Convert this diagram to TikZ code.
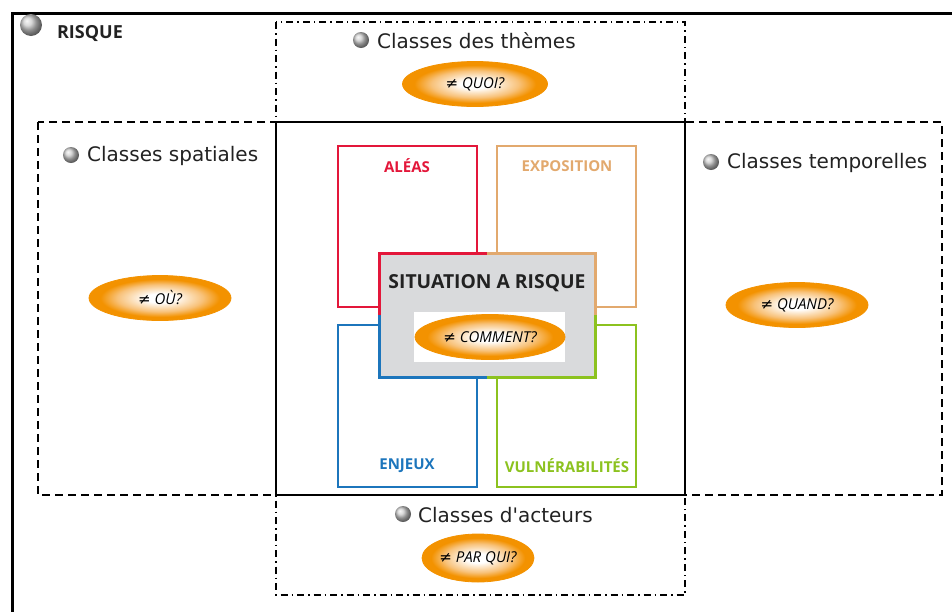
\documentclass[tikz,border=0pt]{standalone}
\usepackage{fontspec}
\setmainfont{Open Sans}
\newfontfamily\symf{DejaVu Sans}
\newfontfamily\classf{DejaVu Sans}
\usetikzlibrary{shapes.geometric}
\definecolor{cRed}{HTML}{E3173A}
\definecolor{cTan}{HTML}{E2A96E}
\definecolor{cBlue}{HTML}{1C75BC}
\definecolor{cGreen}{HTML}{8CC21F}
\definecolor{cGray}{HTML}{D9DADC}
\definecolor{cOrange}{HTML}{F39200}
\definecolor{cOrangeL}{HTML}{F8C27A}
\definecolor{cText}{HTML}{222222}
\pgfdeclareradialshading{orbshade}{\pgfpoint{0bp}{0bp}}{color(0bp)=(white); color(5bp)=(white); color(15bp)=(cOrangeL); color(21bp)=(cOrange); color(25bp)=(cOrange); color(50bp)=(cOrange)}
\tikzset{
  bulletball/.style={circle, inner sep=0pt, minimum size=#1, shading=ball, ball color=gray!40},
  orb/.style={ellipse, inner sep=0pt, shading=orbshade, draw=cOrange, line width=0.8pt, font=\fontsize{15}{17}\selectfont\itshape, text=black},
  classlabel/.style={anchor=west, inner sep=0pt, font=\classf\fontsize{20}{23}\selectfont, text=cText},
  boxlabel/.style={inner sep=0pt, font=\fontsize{15}{17}\selectfont\bfseries},
  dashbox/.style={line width=1.4pt, dash pattern=on 8pt off 5pt},
  dotbox/.style={line width=1.4pt, dash pattern=on 7pt off 4pt on 1.5pt off 4pt},
  quadbox/.style={line width=2pt}
}
\begin{document}
\begin{tikzpicture}[x=1pt,y=-1pt]
\useasboundingbox (0,0) rectangle (952,611);
% outer frame
\draw[line width=3pt] (12,620) -- (12,13) -- (960,13);
% dashed and dash-dot boxes
\draw[dashbox] (38,122) rectangle (942,495);
\draw[dotbox] (276,22) rectangle (685,595);
\draw[line width=1.6pt] (276,122) rectangle (685,495);
% four quadrant boxes
\draw[quadbox, cRed] (338,146) rectangle (477,307);
\draw[quadbox, cTan] (497,146) rectangle (636,307);
\draw[quadbox, cBlue] (338,325) rectangle (477,487);
\draw[quadbox, cGreen] (497,325) rectangle (636,487);
\node[boxlabel, text=cRed] (aleas) at (407,166) {ALÉAS};
\node[boxlabel, text=cTan] (expo) at (567,166) {EXPOSITION};
\node[boxlabel, text=cBlue] (enjeux) at (407,466) {ENJEUX};
\node[boxlabel, text=cGreen] (vuln) at (567,466) {VULNÉRABILITÉS};
% central box
\fill[cGray] (379,253) rectangle (595,377);
\draw[line width=3pt, cRed] (379,315) -- (379,253) -- (487,253);
\draw[line width=3pt, cTan] (487,253) -- (595,253) -- (595,315);
\draw[line width=3pt, cBlue] (379,315) -- (379,377) -- (487,377);
\draw[line width=3pt, cGreen] (487,377) -- (595,377) -- (595,315);
\node[inner sep=0pt, font=\fontsize{19.3}{22}\selectfont\bfseries, text=cText] (situation) at (487,283) {SITUATION A RISQUE};
\fill[white] (414,312) rectangle (565,362);
\node[orb, minimum width=150pt, minimum height=45pt] (comment) at (490,337) {{\symf ≠} COMMENT?};
% RISQUE
\node[bulletball=22pt] (b0) at (31,25) {};
\node[inner sep=0pt, font=\fontsize{18}{20}\selectfont\bfseries, text=cText] (risque) at (90,34) {RISQUE};
% classes
\node[bulletball=16pt] (b1) at (361,40) {};
\node[classlabel] (themes) at (377,41) {Classes des thèmes};
\node[orb, minimum width=145pt, minimum height=45pt] (quoi) at (475,84) {{\symf ≠} QUOI?};
\node[bulletball=16pt] (b2) at (71,155) {};
\node[classlabel] (spat) at (87,156) {Classes spatiales};
\node[orb, minimum width=142pt, minimum height=45pt] (ou) at (160,298) {{\symf ≠} OÙ?};
\node[bulletball=16pt] (b3) at (711,162) {};
\node[classlabel] (temp) at (727,163) {Classes temporelles};
\node[orb, minimum width=142pt, minimum height=45pt] (quand) at (797,305) {{\symf ≠} QUAND?};
\node[bulletball=16pt] (b4) at (403,514) {};
\node[classlabel] (acteurs) at (418,515) {Classes d'acteurs};
\node[orb, minimum width=112pt, minimum height=48pt] (parqui) at (478,558) {{\symf ≠} PAR QUI?};
\end{tikzpicture}
\end{document}
